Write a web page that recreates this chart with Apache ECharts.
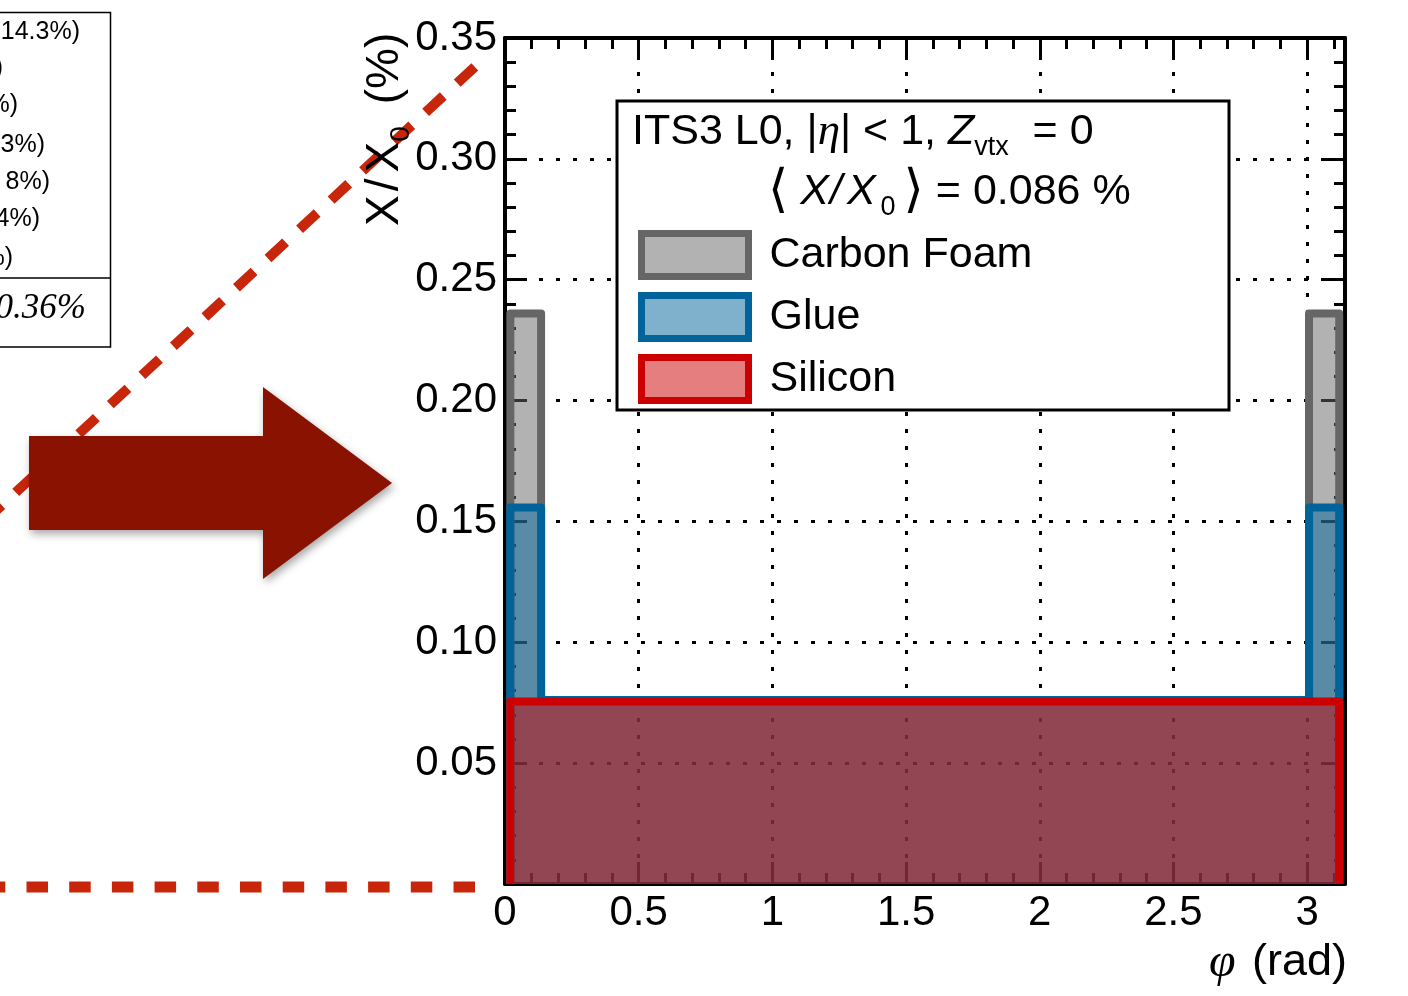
<!DOCTYPE html>
<html><head><meta charset="utf-8">
<script src="https://cdn.jsdelivr.net/npm/echarts@6/dist/echarts.min.js"></script>
<style>html,body{margin:0;padding:0;background:#fff}#c{width:1408px;height:996px}</style>
</head><body><div id="c"></div>
<script>
// ---- data ----
const binEdges = [0.02, 0.135, 3.007, 3.12];          // phi (rad) bin edges
const silicon = [0.0755, 0.0755, 0.0755];            // X/X0 (%)
const glue = [0.0803, 0.0006, 0.0803];
const carbonFoam = [0.0802, 0.0, 0.0802];
const seriesNames = ['Carbon Foam', 'Glue', 'Silicon'];
const xMax = 3.1416, yMax = 0.35;
const xMinorTicks = [0.1,0.2,0.3,0.4,0.6,0.7,0.8,0.9,1.1,1.2,1.3,1.4,1.6,1.7,1.8,1.9,2.1,2.2,2.3,2.4,2.6,2.7,2.8,2.9,3.1];
const leftBoxLines = ['14.3%)', ')', '%)', '3%)', '8%)', '4%)', '%)'];
const leftBoxTotal = '0.36%';

const FONT = 'Liberation Sans';
const lineColors = ['#666666', '#00649a', '#cc0000'];
const fillColors = ['rgba(102,102,102,0.5)', 'rgba(0,100,154,0.5)', 'rgba(204,0,0,0.5)'];

function histPoints(vals) {
  const pts = [[binEdges[0], 0]];
  vals.forEach((v, i) => { pts.push([binEdges[i], v], [binEdges[i + 1], v]); });
  pts.push([binEdges[binEdges.length - 1], 0]);
  return pts;
}
const cumSi = silicon.slice();
const cumGlue = silicon.map((v, i) => v + glue[i]);
const cumTotal = silicon.map((v, i) => v + glue[i] + carbonFoam[i]);
const cumList = [cumTotal, cumGlue, cumSi];

const chart = echarts.init(document.getElementById('c'), null, {renderer: 'canvas'});

const gridRect = {left: 505, right: 63, top: 38, bottom: 112};
const baseX = {
  type: 'value', min: 0, max: xMax, interval: 0.5,
  axisLine: {show: true, onZero: false, lineStyle: {color: '#000', width: 4}},
  axisTick: {show: true, inside: true, length: 22, lineStyle: {color: '#000', width: 3}},
  splitLine: {show: false}
};
const baseY = {
  type: 'value', min: 0, max: yMax, interval: 0.05,
  axisLine: {show: true, onZero: false, lineStyle: {color: '#000', width: 4}},
  axisTick: {show: true, inside: true, length: 22, lineStyle: {color: '#000', width: 3}},
  minorTick: {show: true, splitNumber: 5, length: 11, lineStyle: {color: '#000', width: 3}},
  splitLine: {show: false}
};
const gridLine = {show: true, lineStyle: {color: '#000', width: 3, type: [4, 13]}};

const sub = (fs, pad) => ({fontSize: fs, lineHeight: 12, padding: [pad, 0, 0, 0], fontFamily: FONT, fill: '#000'});

const option = {
  animation: false,
  backgroundColor: '#fff',
  grid: [Object.assign({}, gridRect), Object.assign({}, gridRect)],
  xAxis: [
    Object.assign({}, baseX, {gridIndex: 0, position: 'bottom',
      axisLabel: {show: true, color: '#000', fontSize: 42, fontFamily: FONT, margin: 8,
        formatter: v => (Math.abs(v * 2 - Math.round(v * 2)) < 1e-6 ? String(v) : '')},
      splitLine: gridLine}),
    Object.assign({}, baseX, {gridIndex: 0, position: 'top', axisLabel: {show: false}}),
    Object.assign({}, baseX, {gridIndex: 1, position: 'bottom', axisLine: {show: false},
      axisTick: {show: true, inside: true, length: 11, customValues: xMinorTicks, lineStyle: {color: '#000', width: 3}},
      axisLabel: {show: false}}),
    Object.assign({}, baseX, {gridIndex: 1, position: 'top', axisLine: {show: false},
      axisTick: {show: true, inside: true, length: 11, customValues: xMinorTicks, lineStyle: {color: '#000', width: 3}},
      axisLabel: {show: false}})
  ],
  yAxis: [
    Object.assign({}, baseY, {gridIndex: 0, position: 'left',
      axisLabel: {show: true, color: '#000', fontSize: 42, fontFamily: FONT, margin: 8,
        formatter: v => (v === 0 ? '' : v.toFixed(2))},
      splitLine: gridLine}),
    Object.assign({}, baseY, {gridIndex: 0, position: 'right', axisLabel: {show: false}}),
    Object.assign({}, baseY, {gridIndex: 1, show: false})
  ],
  legend: {
    orient: 'vertical', left: 638, top: 230, padding: 0, itemGap: 12,
    itemWidth: 107, itemHeight: 43, icon: 'rect', selectedMode: false, z: 10,
    textStyle: {fontSize: 43, fontFamily: FONT, color: '#000', padding: [0, 0, 0, 16]},
    data: seriesNames.map((n, i) => ({name: n, icon: 'rect',
      itemStyle: {color: fillColors[i], borderColor: lineColors[i], borderWidth: 7}}))
  },
  series: seriesNames.map((n, i) => ({
    name: n, type: 'line', xAxisIndex: 0, yAxisIndex: 0,
    data: histPoints(cumList[i]), symbol: 'none', showSymbol: false,
    lineStyle: {color: lineColors[i], width: 8, join: 'round'},
    itemStyle: {color: lineColors[i]},
    areaStyle: {color: fillColors[i], opacity: 1},
    emphasis: {disabled: true}
  })),
  graphic: [
    // red dashed guide lines (annotation)
    {type: 'line', z: 1, shape: {x1: 474.8, y1: 66.8, x2: -20, y2: 525.5},
      style: {stroke: '#c8260a', lineWidth: 10, lineDash: [24, 19]}},
    {type: 'line', z: 1, shape: {x1: 475, y1: 887, x2: -10, y2: 887},
      style: {stroke: '#c8260a', lineWidth: 11, lineDash: [21.5, 21.2]}},
    // big arrow
    {type: 'polygon', z: 3, shape: {points: [[29,436],[263,436],[263,387],[392,483],[263,579],[263,530],[29,530]]},
      style: {fill: '#8a1200', shadowBlur: 8, shadowColor: 'rgba(0,0,0,0.35)', shadowOffsetX: 2, shadowOffsetY: 4}},
    // partial legend box on the left
    {type: 'rect', z: 1, shape: {x: -10, y: 12.5, width: 120.5, height: 334.5},
      style: {fill: 'none', stroke: '#000', lineWidth: 1.5}},
    {type: 'line', z: 1, shape: {x1: 0, y1: 278, x2: 110, y2: 278}, style: {stroke: '#000', lineWidth: 1.5}},
    ...leftBoxLines.map((t, i) => ({type: 'text', z: 2,
      style: {text: t, x: [80, 3, 18, 45, 50, 40, 13][i], y: [32, 68, 105, 145, 182, 219, 258][i],
        align: 'right', textAlign: 'right', verticalAlign: 'middle', textVerticalAlign: 'middle',
        fontSize: 25, fontFamily: FONT, fill: '#000'}})),
    {type: 'text', z: 2, style: {text: leftBoxTotal, x: 86, y: 309, align: 'right', textAlign: 'right',
      verticalAlign: 'middle', textVerticalAlign: 'middle', fontSize: 35, fontStyle: 'italic',
      fontFamily: 'Liberation Serif', fill: '#000'}},
    // stat box in the plot
    {type: 'rect', z: 5, shape: {x: 617, y: 101, width: 612, height: 309},
      style: {fill: '#fff', stroke: '#000', lineWidth: 3}},
    {type: 'text', z: 6, style: {
      text: '{n|ITS3 L0, |}{g|η}{n|| < 1, }{i|Z}{s|vtx}{n|  = 0}',
      x: 632, y: 132, verticalAlign: 'middle', textVerticalAlign: 'middle', fill: '#000',
      rich: {
        n: {fontSize: 43, lineHeight: 43, fontFamily: FONT, fill: '#000'},
        g: {fontSize: 45, lineHeight: 43, fontFamily: 'Liberation Serif', fontStyle: 'italic', fill: '#000'},
        i: {fontSize: 43, lineHeight: 43, fontFamily: FONT, fontStyle: 'italic', fill: '#000'},
        s: sub(27, 31)
      }}},
    {type: 'text', z: 6, style: {
      text: '{b|⟨}{i|X}{sl|/}{i|X}{s|0}{c|⟩}{n| = 0.086 %}',
      x: 768, y: 192, verticalAlign: 'middle', textVerticalAlign: 'middle', fill: '#000',
      rich: {
        n: {fontSize: 43, lineHeight: 43, fontFamily: FONT, fill: '#000'},
        sl: {fontSize: 43, lineHeight: 43, fontFamily: FONT, fontStyle: 'italic', fill: '#000', padding: [0, 5, 0, 1]},
        b: {fontSize: 52, lineHeight: 43, fontFamily: 'DejaVu Sans', fill: '#000', padding: [0, 12, 0, 0]},
        c: {fontSize: 52, lineHeight: 43, fontFamily: 'DejaVu Sans', fill: '#000'},
        i: {fontSize: 43, lineHeight: 43, fontFamily: FONT, fontStyle: 'italic', fill: '#000'},
        s: Object.assign(sub(27, 31), {padding: [31, 8, 0, 5]})
      }}},
    // axis titles
    {type: 'text', z: 6, x: 385, y: 226, rotation: Math.PI / 2, style: {
      text: '{n|X}{sl|/}{n|X}{s|0}{p|(%)}', x: 0, y: 0,
      align: 'left', textAlign: 'left', verticalAlign: 'middle', textVerticalAlign: 'middle', fill: '#000',
      rich: {
        n: {fontSize: 46, lineHeight: 46, fontFamily: FONT, fill: '#000'},
        sl: {fontSize: 46, lineHeight: 46, fontFamily: FONT, fill: '#000', padding: [0, 6, 0, 4]},
        p: {fontSize: 46, lineHeight: 46, fontFamily: FONT, fill: '#000', padding: [0, 0, 0, 22]},
        s: sub(28, 33)
      }}},
    {type: 'text', z: 6, style: {
      text: '{g|φ}{n| (rad)}', x: 1347, y: 963,
      align: 'right', textAlign: 'right', verticalAlign: 'middle', textVerticalAlign: 'middle', fill: '#000',
      rich: {
        n: {fontSize: 45, lineHeight: 45, fontFamily: FONT, fill: '#000', padding: [0, 0, 0, 4]},
        g: {fontSize: 48, lineHeight: 45, fontFamily: 'Liberation Serif', fontStyle: 'italic', fill: '#000'}
      }}}
  ]
};
chart.setOption(option);
</script>
</body></html>
